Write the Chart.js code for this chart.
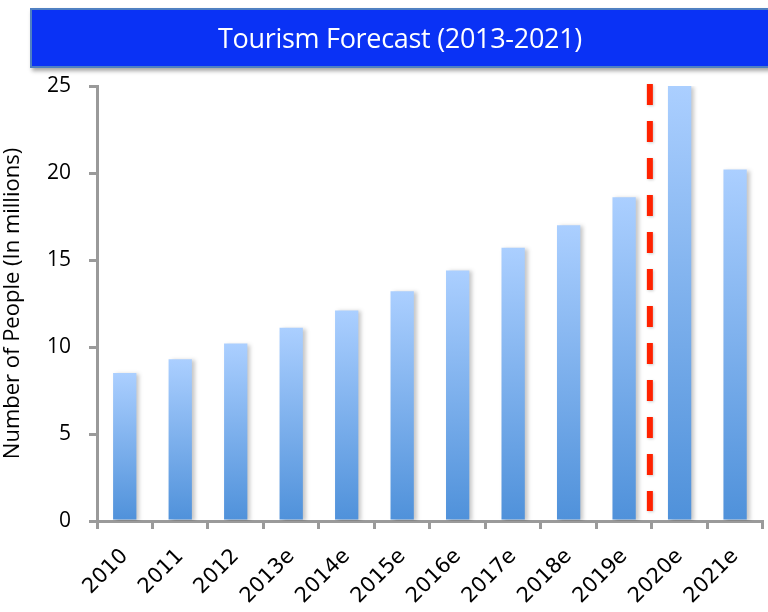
<!DOCTYPE html>
<html>
<head>
<meta charset="utf-8">
<script src="https://cdn.jsdelivr.net/npm/chart.js@4/dist/chart.umd.min.js"></script>
<style>
html,body{margin:0;padding:0;background:#fff;}
#wrap{position:relative;width:768px;height:612px;}
#title{position:absolute;left:30px;top:8px;width:740px;height:60px;background:#0a32f5;border:2px solid #4f80c2;box-sizing:border-box;box-shadow:2px 3px 4px rgba(0,0,0,0.35);color:#fff;font-family:"Open Sans",sans-serif;font-size:27px;line-height:55px;text-align:center;letter-spacing:-0.3px;}
canvas{position:absolute;left:0;top:0;}
</style>
</head>
<body>
<div id="wrap">
<canvas id="c" width="768" height="612"></canvas>
<div id="title"></div>
</div>
<script>
const titleText = "Tourism Forecast (2013-2021)";
const categories = ["2010","2011","2012","2013e","2014e","2015e","2016e","2017e","2018e","2019e","2020e","2021e"];
const values = [8.5, 9.3, 10.2, 11.1, 12.1, 13.2, 14.4, 15.7, 17.0, 18.6, 25.0, 20.2];
const yTicks = [0, 5, 10, 15, 20, 25];
const yAxisTitle = "Number of People (In millions)";
const dividerBetween = ["2019e", "2020e"];

document.getElementById('title').textContent = titleText;

const shadowPlugin = {
  id: 'barShadow',
  beforeDatasetsDraw(chart) {
    const ctx = chart.ctx;
    ctx.save();
    ctx.shadowColor = 'rgba(0,0,0,0.22)';
    ctx.shadowBlur = 4;
    ctx.shadowOffsetX = 3;
    ctx.shadowOffsetY = 1;
  },
  afterDatasetsDraw(chart) {
    chart.ctx.restore();
  }
};

const dividerPlugin = {
  id: 'divider',
  afterDatasetsDraw(chart) {
    const x = chart.scales.x;
    const y = chart.scales.y;
    const i0 = categories.indexOf(dividerBetween[0]);
    const i1 = categories.indexOf(dividerBetween[1]);
    const px = (x.getPixelForValue(i0) + x.getPixelForValue(i1)) / 2 - 2;
    const ctx = chart.ctx;
    ctx.save();
    ctx.strokeStyle = '#ff2200';
    ctx.lineWidth = 6;
    ctx.setLineDash([21, 16]);
    ctx.shadowColor = 'rgba(0,0,0,0.2)';
    ctx.shadowBlur = 3;
    ctx.shadowOffsetX = 1;
    ctx.shadowOffsetY = 1;
    ctx.beginPath();
    ctx.moveTo(px, y.getPixelForValue(25) - 2);
    ctx.lineTo(px, y.getPixelForValue(0) - 10);
    ctx.stroke();
    ctx.restore();
  }
};

new Chart(document.getElementById('c'), {
  type: 'bar',
  data: {
    labels: categories,
    datasets: [{
      data: values,
      backgroundColor(context) {
        const chart = context.chart;
        const area = chart.chartArea;
        if (!area || context.type !== 'data') return '#7aaee8';
        const yS = chart.scales.y;
        const top = yS.getPixelForValue(context.raw);
        const bottom = yS.getPixelForValue(0);
        const g = chart.ctx.createLinearGradient(0, bottom, 0, top);
        g.addColorStop(0, '#4f91da');
        g.addColorStop(1, '#abcfff');
        return g;
      },
      borderWidth: 0,
      barPercentage: 0.42,
      categoryPercentage: 1.0
    }]
  },
  options: {
    responsive: false,
    animation: false,
    layout: { padding: { top: 86, right: 2, left: 0, bottom: 0 } },
    plugins: { legend: { display: false }, tooltip: { enabled: false }, title: { display: false } },
    scales: {
      x: {
        offset: true,
        border: { display: true, color: '#9a9a9a', width: 3 },
        grid: { display: true, drawOnChartArea: false, drawTicks: true, tickLength: 8, color: '#9a9a9a', lineWidth: 3, offset: true },
        ticks: { color: '#000', font: { family: '"DejaVu Sans"', size: 21 }, minRotation: 45, maxRotation: 45, padding: 15 },
        afterFit(s) { s.height = 91; }
      },
      y: {
        min: 0, max: 25,
        afterBuildTicks(s) { s.ticks = yTicks.map(v => ({ value: v })); },
        border: { display: true, color: '#9a9a9a', width: 3 },
        grid: { display: true, drawOnChartArea: false, drawTicks: true, tickLength: 8, color: '#9a9a9a', lineWidth: 3 },
        ticks: { color: '#000', font: { family: '"Open Sans", sans-serif', size: 21 }, padding: 18 },
        title: { display: true, text: yAxisTitle, color: '#000', font: { family: '"Open Sans", sans-serif', size: 22 }, padding: { top: 0, bottom: 0 } },
        afterFit(s) { s.width = 97; }
      }
    }
  },
  plugins: [shadowPlugin, dividerPlugin]
});
</script>
</body>
</html>
